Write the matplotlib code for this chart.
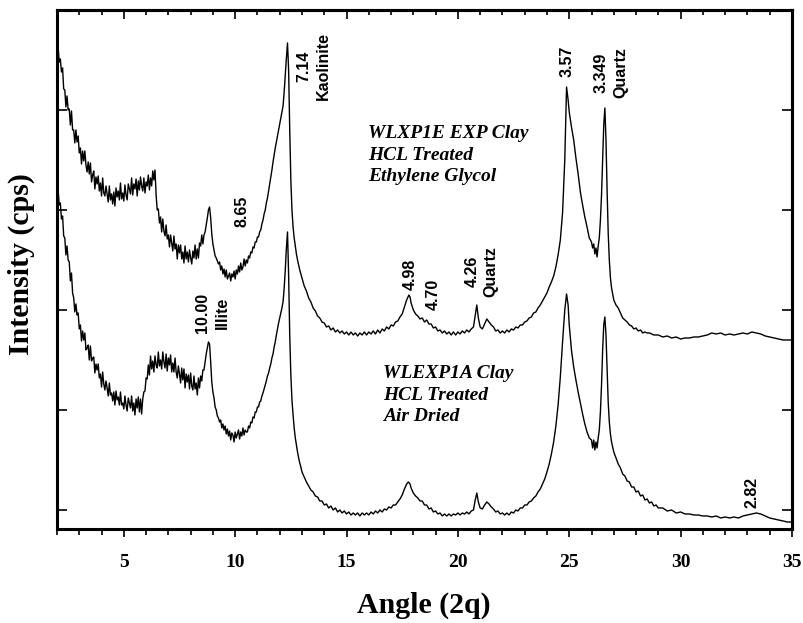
import matplotlib
matplotlib.use("Agg")
import matplotlib.pyplot as plt
from matplotlib.ticker import MultipleLocator

plt.rcParams["font.family"] = ["Liberation Serif", "DejaVu Serif"]
plt.rcParams["font.weight"] = "bold"

# ethylene glycol run (upper trace): angle (2 theta) and counts
eg_angle = [2.05, 2.10, 2.15, 2.20, 2.25, 2.30, 2.35, 2.40, 2.45, 2.50,
            2.55, 2.60, 2.65, 2.70, 2.75, 2.80, 2.85, 2.90, 2.95, 3.00,
            3.05, 3.10, 3.15, 3.20, 3.25, 3.30, 3.35, 3.40, 3.45, 3.50,
            3.55, 3.60, 3.65, 3.70, 3.75, 3.80, 3.85, 3.90, 3.95, 4.00,
            4.05, 4.10, 4.15, 4.20, 4.25, 4.30, 4.35, 4.40, 4.45, 4.50,
            4.55, 4.60, 4.65, 4.70, 4.75, 4.80, 4.85, 4.90, 4.95, 5.00,
            5.05, 5.10, 5.15, 5.20, 5.25, 5.30, 5.35, 5.40, 5.45, 5.50,
            5.55, 5.60, 5.65, 5.70, 5.75, 5.80, 5.85, 5.90, 5.95, 6.00,
            6.05, 6.10, 6.15, 6.20, 6.25, 6.30, 6.35, 6.40, 6.45, 6.50,
            6.55, 6.60, 6.65, 6.70, 6.75, 6.80, 6.85, 6.90, 6.95, 7.00,
            7.05, 7.10, 7.15, 7.20, 7.25, 7.30, 7.35, 7.40, 7.45, 7.50,
            7.55, 7.60, 7.65, 7.70, 7.75, 7.80, 7.85, 7.90, 7.95, 8.00,
            8.05, 8.10, 8.15, 8.20, 8.25, 8.30, 8.35, 8.40, 8.45, 8.50,
            8.55, 8.60, 8.65, 8.70, 8.75, 8.80, 8.85, 8.90, 8.95, 9.00,
            9.05, 9.10, 9.15, 9.20, 9.25, 9.30, 9.35, 9.40, 9.45, 9.50,
            9.55, 9.60, 9.65, 9.70, 9.75, 9.80, 9.85, 9.90, 9.95, 10.00,
            10.05, 10.10, 10.15, 10.20, 10.25, 10.30, 10.35, 10.40, 10.45, 10.50,
            10.55, 10.60, 10.65, 10.70, 10.75, 10.80, 10.85, 10.90, 10.95, 11.00,
            11.05, 11.10, 11.15, 11.20, 11.25, 11.30, 11.35, 11.40, 11.45, 11.50,
            11.55, 11.60, 11.65, 11.70, 11.75, 11.80, 11.85, 11.90, 11.95, 12.00,
            12.05, 12.10, 12.15, 12.20, 12.25, 12.30, 12.35, 12.40, 12.45, 12.50,
            12.55, 12.60, 12.65, 12.70, 12.75, 12.80, 12.85, 12.90, 12.95, 13.00,
            13.1, 13.2, 13.3, 13.4, 13.5, 13.6, 13.7, 13.8, 13.9, 14.0,
            14.1, 14.2, 14.3, 14.4, 14.5, 14.6, 14.7, 14.8, 14.9, 15.0,
            15.1, 15.2, 15.3, 15.4, 15.5, 15.6, 15.7, 15.8, 15.9, 16.0,
            16.1, 16.2, 16.3, 16.4, 16.5, 16.6, 16.7, 16.8, 16.9, 17.0,
            17.1, 17.2, 17.3, 17.4, 17.5, 17.6, 17.7, 17.8, 17.85, 17.9,
            18.0, 18.1, 18.2, 18.3, 18.4, 18.5, 18.6, 18.7, 18.8, 18.9,
            19.0, 19.1, 19.2, 19.3, 19.4, 19.5, 19.6, 19.7, 19.8, 19.9,
            20.0, 20.1, 20.2, 20.3, 20.4, 20.5, 20.6, 20.7, 20.78, 20.85,
            20.92, 21.0, 21.1, 21.2, 21.3, 21.4, 21.5, 21.6, 21.7, 21.8,
            21.9, 22.0, 22.1, 22.2, 22.3, 22.4, 22.5, 22.6, 22.7, 22.8,
            22.9, 23.0, 23.1, 23.2, 23.3, 23.4, 23.5, 23.6, 23.7, 23.8,
            23.9, 24.0, 24.1, 24.2, 24.3, 24.4, 24.5, 24.6, 24.7, 24.8,
            24.88, 24.95, 25.0, 25.1, 25.2, 25.3, 25.4, 25.5, 25.6, 25.7,
            25.8, 25.9, 26.0, 26.05, 26.1, 26.15, 26.2, 26.25, 26.3, 26.35,
            26.4, 26.45, 26.5, 26.55, 26.6, 26.65, 26.7, 26.75, 26.8, 26.85,
            26.9, 27.0, 27.1, 27.2, 27.3, 27.4, 27.5, 27.6, 27.7, 27.8,
            27.9, 28.0, 28.1, 28.2, 28.3, 28.4, 28.5, 28.6, 28.8, 29.0,
            29.2, 29.4, 29.6, 29.8, 30.0, 30.2, 30.4, 30.6, 30.8, 31.0,
            31.2, 31.4, 31.6, 31.8, 32.0, 32.2, 32.4, 32.6, 32.8, 33.0,
            33.2, 33.4, 33.6, 33.8, 34.0, 34.2, 34.4, 34.6, 34.8, 35.0]
eg_counts = [463, 448, 451, 438, 442, 421, 420, 403, 414, 400,
             401, 385, 399, 380, 380, 367, 380, 368, 374, 357,
             362, 346, 359, 349, 359, 345, 338, 348, 336, 347,
             328, 335, 339, 321, 333, 326, 334, 319, 327, 314,
             332, 317, 314, 324, 316, 308, 324, 310, 316, 306,
             318, 304, 322, 313, 319, 310, 327, 311, 317, 309,
             325, 315, 310, 326, 321, 316, 332, 315, 326, 321,
             331, 314, 329, 320, 333, 324, 319, 332, 317, 328,
             324, 335, 320, 332, 324, 339, 330, 340, 315, 300,
             301, 287, 293, 278, 291, 279, 274, 285, 271, 275,
             263, 275, 267, 259, 274, 261, 266, 251, 265, 257,
             265, 251, 258, 247, 264, 251, 258, 248, 260, 252,
             246, 259, 252, 265, 251, 261, 252, 267, 264, 275,
             266, 275, 278, 285, 292, 300, 303, 292, 276, 266,
             260, 254, 252, 249, 246, 248, 240, 244, 236, 241,
             233, 240, 231, 234, 237, 229, 236, 233, 239, 231,
             240, 236, 244, 238, 247, 240, 243, 251, 244, 250,
             247, 254, 252, 258, 257, 263, 262, 268, 268, 273,
             273, 278, 280, 286, 290, 296, 300, 307, 312, 319,
             326, 333, 340, 348, 355, 362, 368, 374, 380, 386,
             392, 398, 404, 418, 435, 452, 467, 440, 380, 330,
             300, 283, 272, 264, 256, 250, 245, 240, 236, 232,
             224, 219, 212, 208, 202, 199, 194, 192, 188, 187,
             183, 184, 180, 182, 178, 180, 177, 179, 176, 178,
             175, 178, 175, 177, 174, 177, 175, 178, 175, 178,
             176, 179, 176, 180, 177, 181, 179, 183, 181, 185,
             184, 188, 189, 193, 196, 203, 210, 215, 213, 207,
             200, 196, 194, 191, 192, 188, 190, 186, 186, 182,
             183, 179, 180, 177, 179, 176, 178, 175, 178, 175,
             178, 176, 179, 177, 180, 178, 181, 183, 195, 205,
             192, 183, 181, 186, 191, 188, 185, 183, 179, 180,
             177, 179, 177, 180, 178, 181, 180, 183, 182, 185,
             185, 188, 189, 192, 193, 197, 198, 202, 205, 209,
             213, 217, 223, 228, 234, 243, 255, 270, 297, 350,
             423, 410, 398, 383, 370, 352, 336, 318, 305, 293,
             283, 272, 268, 262, 266, 256, 262, 253, 264, 272,
             290, 315, 350, 385, 402, 370, 320, 277, 250, 232,
             222, 210, 205, 202, 197, 192, 190, 188, 185, 184,
             181, 182, 179, 180, 177, 178, 177, 177, 175, 175,
             173, 174, 172, 173, 171, 172, 172, 173, 173, 174,
             175, 177, 176, 177, 175, 176, 175, 176, 177, 176,
             178, 177, 176, 174, 173, 172, 171, 170, 170, 170]

# air dried run (lower trace)
ad_angle = [2.05, 2.10, 2.15, 2.20, 2.25, 2.30, 2.35, 2.40, 2.45, 2.50,
            2.55, 2.60, 2.65, 2.70, 2.75, 2.80, 2.85, 2.90, 2.95, 3.00,
            3.05, 3.10, 3.15, 3.20, 3.25, 3.30, 3.35, 3.40, 3.45, 3.50,
            3.55, 3.60, 3.65, 3.70, 3.75, 3.80, 3.85, 3.90, 3.95, 4.00,
            4.05, 4.10, 4.15, 4.20, 4.25, 4.30, 4.35, 4.40, 4.45, 4.50,
            4.55, 4.60, 4.65, 4.70, 4.75, 4.80, 4.85, 4.90, 4.95, 5.00,
            5.05, 5.10, 5.15, 5.20, 5.25, 5.30, 5.35, 5.40, 5.45, 5.50,
            5.55, 5.60, 5.65, 5.70, 5.75, 5.80, 5.85, 5.90, 5.95, 6.00,
            6.05, 6.10, 6.15, 6.20, 6.25, 6.30, 6.35, 6.40, 6.45, 6.50,
            6.55, 6.60, 6.65, 6.70, 6.75, 6.80, 6.85, 6.90, 6.95, 7.00,
            7.05, 7.10, 7.15, 7.20, 7.25, 7.30, 7.35, 7.40, 7.45, 7.50,
            7.55, 7.60, 7.65, 7.70, 7.75, 7.80, 7.85, 7.90, 7.95, 8.00,
            8.05, 8.10, 8.15, 8.20, 8.25, 8.30, 8.35, 8.40, 8.45, 8.50,
            8.55, 8.60, 8.65, 8.70, 8.75, 8.80, 8.85, 8.90, 8.95, 9.00,
            9.05, 9.10, 9.15, 9.20, 9.25, 9.30, 9.35, 9.40, 9.45, 9.50,
            9.55, 9.60, 9.65, 9.70, 9.75, 9.80, 9.85, 9.90, 9.95, 10.00,
            10.05, 10.10, 10.15, 10.20, 10.25, 10.30, 10.35, 10.40, 10.45, 10.50,
            10.55, 10.60, 10.65, 10.70, 10.75, 10.80, 10.85, 10.90, 10.95, 11.00,
            11.05, 11.10, 11.15, 11.20, 11.25, 11.30, 11.35, 11.40, 11.45, 11.50,
            11.55, 11.60, 11.65, 11.70, 11.75, 11.80, 11.85, 11.90, 11.95, 12.00,
            12.05, 12.10, 12.15, 12.20, 12.25, 12.30, 12.35, 12.40, 12.45, 12.50,
            12.55, 12.60, 12.65, 12.70, 12.75, 12.80, 12.85, 12.90, 12.95, 13.0,
            13.1, 13.2, 13.3, 13.4, 13.5, 13.6, 13.7, 13.8, 13.9, 14.0,
            14.1, 14.2, 14.3, 14.4, 14.5, 14.6, 14.7, 14.8, 14.9, 15.0,
            15.1, 15.2, 15.3, 15.4, 15.5, 15.6, 15.7, 15.8, 15.9, 16.0,
            16.1, 16.2, 16.3, 16.4, 16.5, 16.6, 16.7, 16.8, 16.9, 17.0,
            17.1, 17.2, 17.3, 17.4, 17.5, 17.6, 17.7, 17.78, 17.85, 17.9,
            18.0, 18.1, 18.2, 18.3, 18.4, 18.5, 18.6, 18.7, 18.8, 18.9,
            19.0, 19.1, 19.2, 19.3, 19.4, 19.5, 19.6, 19.7, 19.8, 19.9,
            20.0, 20.1, 20.2, 20.3, 20.4, 20.5, 20.6, 20.7, 20.78, 20.85,
            20.92, 21.0, 21.1, 21.2, 21.3, 21.4, 21.5, 21.6, 21.7, 21.8,
            21.9, 22.0, 22.1, 22.2, 22.3, 22.4, 22.5, 22.6, 22.7, 22.8,
            22.9, 23.0, 23.1, 23.2, 23.3, 23.4, 23.5, 23.6, 23.7, 23.8,
            23.9, 24.0, 24.1, 24.2, 24.3, 24.4, 24.5, 24.6, 24.7, 24.8,
            24.88, 24.95, 25.0, 25.1, 25.2, 25.3, 25.4, 25.5, 25.6, 25.7,
            25.8, 25.9, 26.0, 26.05, 26.1, 26.15, 26.2, 26.25, 26.3, 26.35,
            26.4, 26.45, 26.5, 26.55, 26.6, 26.65, 26.7, 26.75, 26.8, 26.85,
            26.9, 27.0, 27.1, 27.2, 27.3, 27.4, 27.5, 27.6, 27.7, 27.8,
            27.9, 28.0, 28.1, 28.2, 28.3, 28.4, 28.5, 28.6, 28.7, 28.8,
            28.9, 29.0, 29.2, 29.4, 29.6, 29.8, 30.0, 30.2, 30.4, 30.6,
            30.8, 31.0, 31.2, 31.4, 31.6, 31.8, 32.0, 32.2, 32.4, 32.6,
            32.8, 33.0, 33.2, 33.4, 33.6, 33.8, 34.0, 34.2, 34.4, 34.6,
            34.8, 35.0]
ad_counts = [320, 305, 307, 291, 294, 274, 272, 255, 264, 250,
             248, 229, 237, 217, 212, 198, 206, 195, 197, 181,
             185, 169, 179, 170, 177, 160, 162, 165, 150, 164,
             149, 152, 153, 137, 146, 140, 146, 132, 136, 123,
             138, 126, 120, 129, 122, 114, 127, 115, 117, 109,
             118, 105, 119, 110, 113, 105, 118, 105, 107, 101,
             114, 105, 99, 112, 107, 102, 114, 99, 107, 95,
             111, 102, 113, 98, 111, 96, 111, 118, 119, 132,
             131, 145, 135, 154, 141, 149, 138, 154, 145, 142,
             158, 144, 150, 141, 158, 148, 142, 156, 139, 152,
             145, 155, 138, 147, 138, 152, 138, 132, 144, 136,
             127, 142, 130, 141, 122, 136, 128, 135, 121, 137,
             124, 120, 134, 121, 127, 115, 132, 122, 134, 129,
             140, 140, 148, 156, 162, 168, 166, 148, 128, 118,
             112, 103, 100, 94, 92, 88, 90, 82, 86, 80,
             84, 76, 81, 74, 79, 70, 77, 75, 68, 78,
             72, 76, 80, 71, 78, 74, 82, 75, 80, 78,
             78, 84, 82, 88, 87, 93, 92, 98, 98, 103,
             103, 108, 109, 114, 117, 121, 125, 129, 134, 137,
             142, 146, 152, 156, 163, 168, 175, 181, 187, 192,
             197, 202, 208, 222, 240, 262, 278, 235, 175, 135,
             110, 95, 82, 72, 65, 58, 52, 47, 43, 38,
             33, 28, 24, 20, 18, 14, 13, 9, 9, 5,
             6, 2, 4, 0, 2, -2, 0, -3, -1, -4,
             -2, -5, -3, -5, -3, -6, -3, -5, -3, -5,
             -2, -4, -1, -3, 0, -2, 1, 0, 3, 2,
             5, 5, 8, 11, 15, 21, 26, 28, 26, 22,
             17, 14, 12, 9, 9, 5, 5, 1, 2, -2,
             -1, -4, -3, -6, -4, -6, -4, -6, -4, -5,
             -3, -5, -3, -4, -2, -4, -1, 0, 10, 17,
             8, 2, 1, 5, 8, 6, 3, 1, -2, -1,
             -4, -3, -5, -3, -5, -2, -3, 0, -1, 2,
             2, 5, 5, 8, 9, 12, 14, 18, 21, 26,
             31, 38, 46, 56, 68, 84, 105, 133, 168, 200,
             216, 205, 185, 160, 143, 130, 118, 107, 96, 86,
             78, 72, 70, 62, 70, 60, 68, 62, 72, 80,
             98, 125, 160, 185, 193, 175, 140, 108, 88, 76,
             68, 58, 52, 46, 42, 36, 34, 29, 28, 23,
             23, 18, 19, 14, 15, 10, 11, 7, 8, 4,
             5, 2, 2, -1, 0, -3, -2, -4, -4, -5,
             -5, -6, -6, -7, -6, -8, -7, -8, -7, -8,
             -6, -5, -4, -3, -4, -6, -8, -9, -10, -11,
             -12, -12]

# d-spacing labels: angle, counts, text
peak_angle = [13.51, 10.32, 8.98, 17.87, 18.9, 21.06, 24.91, 26.88, 33.21]
peak_counts = [410, 283, 177, 220, 200, 213, 433, 412, 2]
peak_text = ["7.14\nKaolinite", "8.65", "10.00\nIllite", "4.98", "4.70",
             "4.26\nQuartz", "3.57", "3.349\nQuartz", "2.82"]

sample_angle = [15.98, 16.65]
sample_counts = [385, 145]
sample_text = ["WLXP1E EXP Clay\nHCL Treated\nEthylene Glycol",
               "WLEXP1A Clay\nHCL Treated\nAir Dried"]

fig = plt.figure(figsize=(8.04, 6.23), dpi=100)
ax = fig.add_axes([0.0709, 0.1509, 0.9141, 0.8331])

ax.plot(eg_angle, eg_counts, color="black", lw=1.0)
ax.plot(ad_angle, ad_counts, color="black", lw=1.0)

for x, y, t in zip(peak_angle, peak_counts, peak_text):
    ax.text(x, y, t, rotation=90, ha="center", va="bottom",
            family="Liberation Sans", fontweight="bold", fontsize=11.5,
            linespacing=1.35)

for x, y, t in zip(sample_angle, sample_counts, sample_text):
    ax.text(x, y, t, ha="left", va="top", fontweight="bold", style="italic",
            fontsize=14, linespacing=1.35)

ax.set_xlim(2, 35)
ax.set_ylim(-19, 500)
ax.xaxis.set_major_locator(MultipleLocator(5))
ax.xaxis.set_minor_locator(MultipleLocator(1))
ax.yaxis.set_major_locator(MultipleLocator(100))
ax.set_yticklabels([])
ax.tick_params(axis="x", which="major", direction="out", length=6, width=1.2,
               pad=12, labelsize=14)
ax.tick_params(axis="x", which="minor", direction="out", length=4, width=1.2)
ax.tick_params(axis="y", which="major", direction="in", length=7, width=1.2)

# top and right ticks point inward
top = ax.secondary_xaxis("top")
top.xaxis.set_major_locator(MultipleLocator(5))
top.xaxis.set_minor_locator(MultipleLocator(1))
top.tick_params(which="major", direction="in", length=6.5, width=1.2, labeltop=False)
top.tick_params(which="minor", direction="in", length=3.5, width=1.2)
right = ax.secondary_yaxis("right")
right.yaxis.set_major_locator(MultipleLocator(100))
right.tick_params(direction="in", length=7, width=1.2, labelright=False)

for a in (ax, top, right):
    for s in a.spines.values():
        s.set_linewidth(2.2)

fig.text(0.527, 0.016, "Angle (2q)", ha="center", va="baseline",
         fontweight="bold", fontsize=21.5)
fig.text(0.027, 0.576, "Intensity (cps)", ha="center", va="center", rotation=90,
         fontweight="bold", fontsize=21.5)

fig.savefig("out.png", dpi=100)
